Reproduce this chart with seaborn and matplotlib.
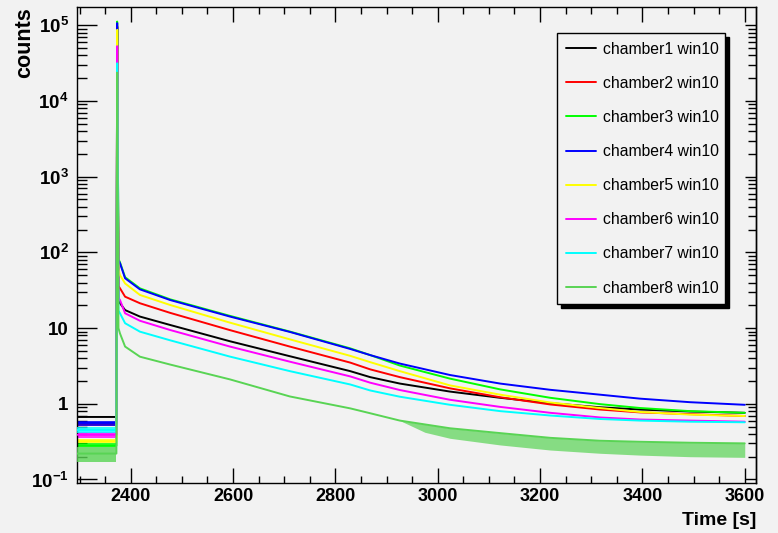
import matplotlib
matplotlib.use("Agg")
import matplotlib.pyplot as plt
import pandas as pd
import seaborn as sns
from matplotlib.ticker import MultipleLocator, LogLocator, NullFormatter

# ---------------- data ----------------
time_s = [2295, 2372, 2373.5, 2376, 2379, 2389, 2418, 2477, 2594, 2711, 2829,
          2868, 2926, 3024, 3122, 3220, 3317, 3395, 3493, 3600]

chamber1 = [0.67, 0.67, 9.5e4, 23, 21.3, 17.3, 14.2, 11.0, 6.7, 4.25, 2.7,
            2.25, 1.85, 1.45, 1.2, 1.02, 0.9, 0.84, 0.79, 0.76]
chamber2 = [0.53, 0.53, 9.8e4, 36, 33.6, 26, 21.3, 15.9, 9.4, 5.7, 3.5,
            2.85, 2.25, 1.6, 1.22, 0.98, 0.84, 0.77, 0.73, 0.69]
chamber3 = [0.28, 0.28, 1.12e5, 82, 74, 47, 33.5, 24, 14.5, 9.0, 5.4,
            4.4, 3.2, 2.15, 1.55, 1.2, 0.99, 0.88, 0.8, 0.76]
chamber4 = [0.56, 0.56, 1.07e5, 79, 72, 45.5, 32.5, 23.5, 14.2, 8.9, 5.3,
            4.4, 3.4, 2.4, 1.85, 1.53, 1.32, 1.17, 1.05, 0.97]
chamber5 = [0.32, 0.32, 8.7e4, 60, 50, 38.9, 27.4, 20.2, 11.8, 7.1, 4.3,
            3.55, 2.7, 1.75, 1.32, 1.04, 0.88, 0.78, 0.72, 0.69]
chamber6 = [0.39, 0.39, 5.3e4, 25, 23.5, 15.7, 12.5, 9.44, 5.7, 3.6, 2.3,
            1.9, 1.52, 1.13, 0.91, 0.76, 0.66, 0.62, 0.6, 0.58]
chamber7 = [0.45, 0.45, 3.15e4, 17, 15.7, 11.6, 8.97, 6.9, 4.2, 2.7, 1.8,
            1.5, 1.24, 0.97, 0.8, 0.7, 0.63, 0.6, 0.58, 0.57]
chamber8 = [0.22, 0.22, 2.37e4, 10, 8.5, 5.7, 4.19, 3.3, 2.1, 1.25, 0.87,
            0.75, 0.6, 0.475, 0.41, 0.355, 0.325, 0.315, 0.306, 0.30]

# noisy band of chamber8 after ~2930 s (envelope of the oscillation)
band_time = [2926, 2975, 3024, 3122, 3220, 3317, 3395, 3493, 3600]
chamber8_band_low = [0.6, 0.42, 0.35, 0.286, 0.245, 0.222, 0.21, 0.20, 0.196]
chamber8_band_high = [0.6, 0.535, 0.475, 0.41, 0.355, 0.325, 0.315, 0.306, 0.30]

# noisy pre-spike baseline bands
pre_time = [2295, 2372]
pre_low = [0.66, 0.52, 0.27, 0.51, 0.30, 0.35, 0.41, 0.17]
pre_high = [0.69, 0.55, 0.30, 0.60, 0.34, 0.43, 0.50, 0.27]

labels = ["chamber1 win10", "chamber2 win10", "chamber3 win10", "chamber4 win10",
          "chamber5 win10", "chamber6 win10", "chamber7 win10", "chamber8 win10"]
colors = ["#000000", "#ff0000", "#00ff00", "#0000ff",
          "#ffff00", "#ff00ff", "#00ffff", "#59d454"]

x_ticks = [2400, 2600, 2800, 3000, 3200, 3400, 3600]
x_tick_labels = ["2400", "2600", "2800", "3000", "3200", "3400", "3600"]
y_ticks = [0.1, 1, 10, 100, 1e3, 1e4, 1e5]
y_tick_labels = [r"$\mathbf{10^{-1}}$", "1", "10", r"$\mathbf{10^{2}}$",
                 r"$\mathbf{10^{3}}$", r"$\mathbf{10^{4}}$", r"$\mathbf{10^{5}}$"]

# ---------------- style ----------------
sns.set_theme(style="ticks")
plt.rcParams["font.family"] = ["Liberation Sans", "DejaVu Sans"]
plt.rcParams["mathtext.fontset"] = "custom"
plt.rcParams["mathtext.rm"] = "Liberation Sans"
plt.rcParams["mathtext.bf"] = "Liberation Sans:bold"
plt.rcParams["mathtext.it"] = "Liberation Sans:italic"
plt.rcParams["axes.edgecolor"] = "black"
plt.rcParams["axes.labelcolor"] = "black"
plt.rcParams["text.color"] = "black"
plt.rcParams["xtick.color"] = "black"
plt.rcParams["ytick.color"] = "black"

BG = "#f2f2f2"
fig = plt.figure(figsize=(7.78, 5.33), dpi=100, facecolor=BG)
ax = fig.add_axes([77 / 778, (533 - 482.7) / 533, 679 / 778, 475.4 / 533])
ax.set_facecolor(BG)
ax.set_yscale("log")

series = [chamber1, chamber2, chamber3, chamber4,
          chamber5, chamber6, chamber7, chamber8]
rows = []
for lab, vals in zip(labels, series):
    for t, v in zip(time_s, vals):
        rows.append((lab, t, v))
df = pd.DataFrame(rows, columns=["chamber", "time", "counts"])

for i, (lab, col) in enumerate(zip(labels, colors)):
    ax.fill_between(pre_time, pre_low[i], pre_high[i], color=col, lw=0,
                    alpha=0.8, zorder=2 + i * 0.1)
    if i == 7:
        ax.fill_between(band_time, chamber8_band_low, chamber8_band_high,
                        color=col, lw=0, alpha=0.7, zorder=2 + i * 0.1)
    sns.lineplot(data=df[df["chamber"] == lab], x="time", y="counts",
                 color=col, lw=1.4, sort=False, estimator=None, ax=ax,
                 label=lab, legend=False, zorder=2.05 + i * 0.1)

# ---------------- axes ----------------
ax.set_xticks(x_ticks, labels=x_tick_labels, fontweight="bold", fontsize=13)
ax.xaxis.set_minor_locator(MultipleLocator(50))
ax.set_yticks(y_ticks, labels=y_tick_labels, fontweight="bold", fontsize=13.5)
ax.yaxis.set_minor_locator(LogLocator(base=10, subs=range(2, 10), numticks=30))
ax.yaxis.set_minor_formatter(NullFormatter())
ax.set_xlim(2295, 3622)
ax.set_ylim(0.0907, 1.73e5)

ax.tick_params(axis="x", which="major", direction="in", length=10.5, width=1,
               top=True, bottom=True, pad=4)
ax.tick_params(axis="x", which="minor", direction="in", length=5.2, width=1,
               top=True, bottom=True)
ax.tick_params(axis="y", which="major", direction="in", length=14.4, width=1,
               left=True, right=False, pad=6)
ax.tick_params(axis="y", which="minor", direction="in", length=7.2, width=1,
               left=True, right=False)

sec = ax.secondary_yaxis("right")
sec.yaxis.set_major_locator(LogLocator(base=10, numticks=30))
sec.yaxis.set_minor_locator(LogLocator(base=10, subs=range(2, 10), numticks=30))
sec.yaxis.set_major_formatter(NullFormatter())
sec.yaxis.set_minor_formatter(NullFormatter())
sec.tick_params(axis="y", which="major", direction="in", length=8, width=1)
sec.tick_params(axis="y", which="minor", direction="in", length=6, width=1)
sec.spines["right"].set_linewidth(1.0)

for s in ax.spines.values():
    s.set_linewidth(1.0)
    s.set_color("black")

ax.set_xlabel("Time [s]", loc="right", fontweight="bold", fontsize=14)
ax.xaxis.set_label_coords(1.0, -0.062)
ax.xaxis.label.set_va("top")
ax.set_ylabel("counts", loc="top", fontweight="bold", fontsize=15.5)
ax.yaxis.set_label_coords(-0.062, 1.0)

handles = ax.get_lines()[:8]
leg = ax.legend(handles, labels, loc="upper left",
                bbox_to_anchor=(0.707, 0.374, 0.247, 0.572), mode="expand",
                frameon=True, fancybox=False, edgecolor="black", facecolor=BG,
                framealpha=1, shadow={"color": "black", "alpha": 1, "ox": 3, "oy": -3},
                fontsize=11.3, handlelength=1.9, handletextpad=0.45,
                labelspacing=1.22, borderpad=0.55, borderaxespad=0)
leg.get_frame().set_linewidth(1.0)
leg.set_zorder(10)

fig.savefig("out.png", dpi=100, facecolor=BG)
